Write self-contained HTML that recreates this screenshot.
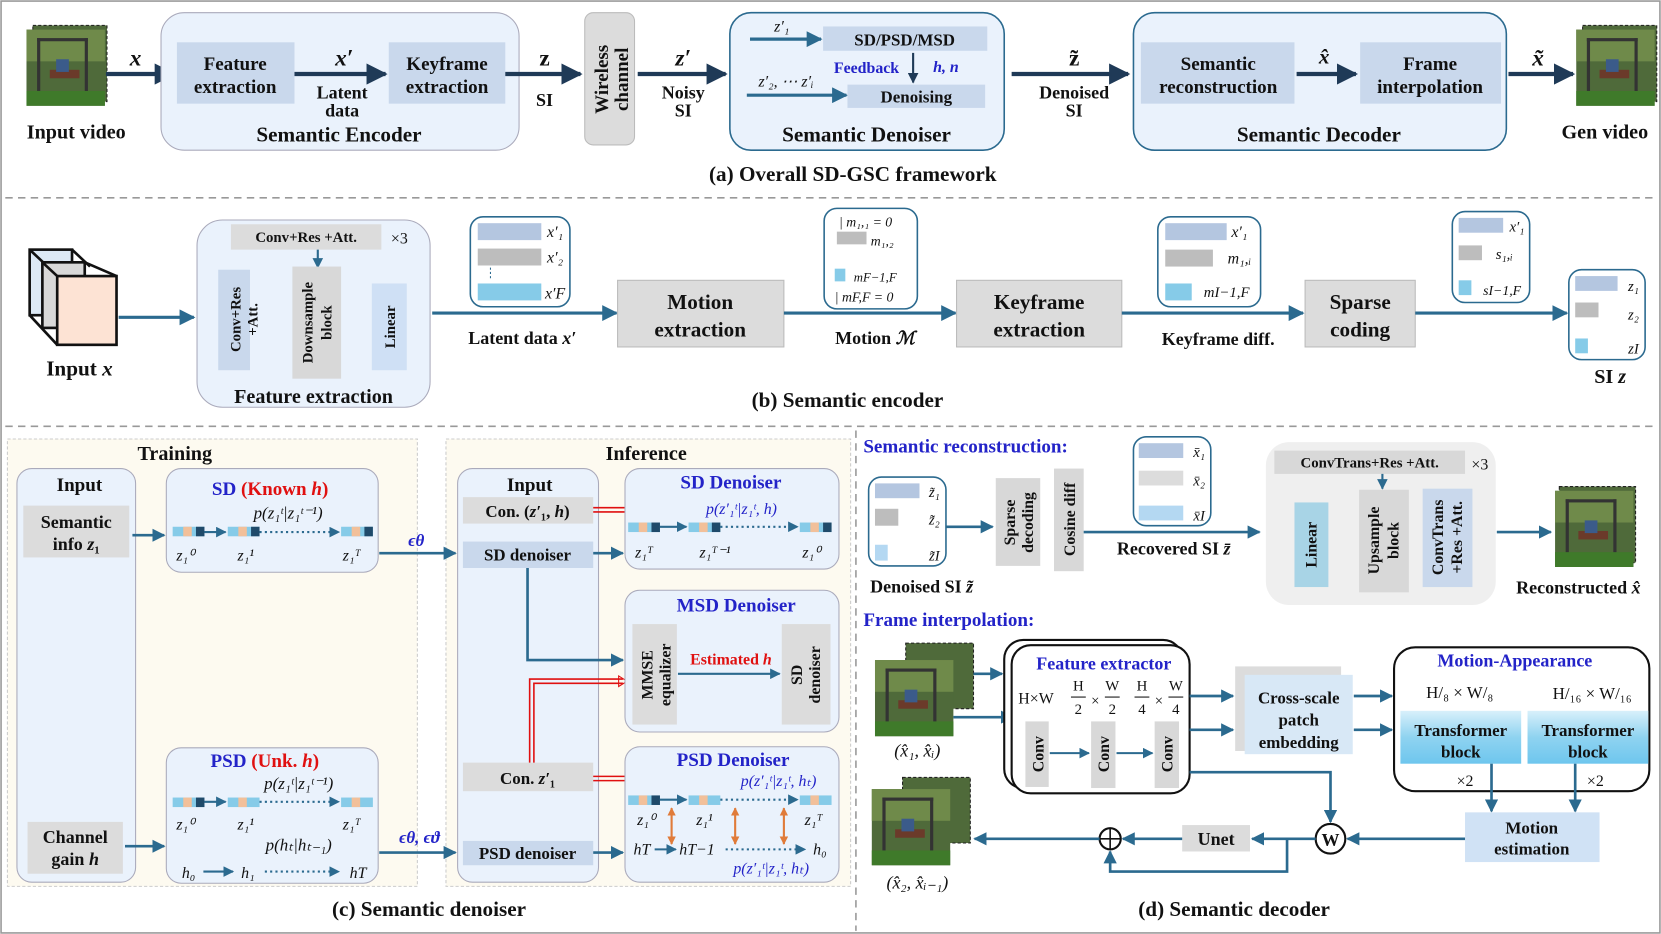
<!DOCTYPE html>
<html><head><meta charset="utf-8"><style>
html,body{margin:0;padding:0;background:#fff;}
svg{display:block;}
text{font-family:"Liberation Serif",serif;font-weight:bold;fill:#111;}
.it{font-style:italic;}
.bl{fill:#2323c8;}
.rd{fill:#e01010;}
.n{font-weight:normal;}
</style></head><body>
<svg width="1661" height="934" viewBox="0 0 1568 883" preserveAspectRatio="none" xmlns="http://www.w3.org/2000/svg">
<defs>
<marker id="a1" viewBox="0 0 10 10" refX="9" refY="5" markerWidth="5" markerHeight="5" orient="auto"><path d="M0,0L10,5L0,10z" fill="#1f3a57"/></marker>
<marker id="a2" viewBox="0 0 10 10" refX="9" refY="5" markerWidth="5" markerHeight="5" orient="auto"><path d="M0,0L10,5L0,10z" fill="#2b6a8f"/></marker>
<marker id="a3" viewBox="0 0 10 10" refX="9" refY="5" markerWidth="4" markerHeight="4" orient="auto-start-reverse"><path d="M0,0L10,5L0,10z" fill="#e07b39"/></marker>
<linearGradient id="tg" x1="0" y1="0" x2="0" y2="1"><stop offset="0" stop-color="#d8f0fb"/><stop offset="0.5" stop-color="#8fd3f0"/><stop offset="1" stop-color="#6ec6ee"/></linearGradient>
<g id="img"><rect width="74" height="72" fill="#4f6a3a"/><rect y="0" width="74" height="30" fill="#6f8a4a"/><rect x="10" y="8" width="3" height="55" fill="#333"/><rect x="55" y="8" width="3" height="55" fill="#333"/><rect x="10" y="8" width="48" height="3" fill="#333"/><rect x="22" y="38" width="28" height="8" fill="#6b3a2a"/><rect x="28" y="28" width="12" height="12" fill="#3b5b8a"/><rect y="58" width="74" height="14" fill="#3f7a2a"/></g>
</defs>
<rect x="1" y="1" width="1566" height="881" fill="none" stroke="#999" stroke-width="1.5"/>

<!-- (a) -->
<rect x="31" y="24" width="70" height="72" fill="#4f6a3a" stroke="#222" stroke-dasharray="3,2"/>
<use href="#img" x="25" y="28"/>
<text x="72" y="131" text-anchor="middle" font-size="19">Input video</text>
<line x1="100" y1="70" x2="164" y2="70" stroke="#1f3a57" stroke-width="4" marker-end="url(#a1)"/>
<text x="128" y="62" text-anchor="middle" font-size="22" class="it">x</text>
<rect x="152" y="12" width="338" height="130" rx="22" fill="#eaf2fc" stroke="#aab" />
<rect x="167" y="40" width="111" height="58" fill="#c9d8ec"/>
<text x="222" y="66" text-anchor="middle" font-size="18">Feature</text><text x="222" y="88" text-anchor="middle" font-size="18">extraction</text>
<line x1="278" y1="70" x2="364" y2="70" stroke="#1f3a57" stroke-width="4" marker-end="url(#a1)"/>
<text x="325" y="62" text-anchor="middle" font-size="22" class="it">x′</text>
<text x="323" y="93" text-anchor="middle" font-size="17">Latent</text><text x="323" y="110" text-anchor="middle" font-size="17">data</text>
<rect x="367" y="40" width="110" height="58" fill="#c9d8ec"/>
<text x="422" y="66" text-anchor="middle" font-size="18">Keyframe</text><text x="422" y="88" text-anchor="middle" font-size="18">extraction</text>
<text x="320" y="134" text-anchor="middle" font-size="20">Semantic Encoder</text>
<line x1="477" y1="70" x2="548" y2="70" stroke="#1f3a57" stroke-width="4" marker-end="url(#a1)"/>
<text x="514" y="62" text-anchor="middle" font-size="22">z</text><text x="514" y="100" text-anchor="middle" font-size="17">SI</text>
<rect x="552" y="12" width="47" height="125" rx="8" fill="#dcdcdc" stroke="#bbb"/>
<text transform="translate(574,75) rotate(-90)" text-anchor="middle" font-size="18">Wireless</text>
<text transform="translate(593,75) rotate(-90)" text-anchor="middle" font-size="18">channel</text>
<line x1="602" y1="70" x2="685" y2="70" stroke="#1f3a57" stroke-width="4" marker-end="url(#a1)"/>
<text x="645" y="62" text-anchor="middle" font-size="22" class="it">z′</text>
<text x="645" y="93" text-anchor="middle" font-size="17">Noisy</text><text x="645" y="110" text-anchor="middle" font-size="17">SI</text>
<rect x="689" y="12" width="259" height="130" rx="20" fill="#eaf2fc" stroke="#2b6a8f" stroke-width="1.5"/>
<rect x="777" y="25" width="155" height="23" fill="#c9d8ec"/>
<text x="854" y="43" text-anchor="middle" font-size="16">SD/PSD/MSD</text>
<text x="738" y="30" text-anchor="middle" font-size="15" class="it n">z′₁</text>
<line x1="708" y1="37" x2="775" y2="37" stroke="#2b6a8f" stroke-width="3" marker-end="url(#a2)"/>
<text x="818" y="69" text-anchor="middle" font-size="15" class="bl">Feedback</text>
<text x="893" y="68" text-anchor="middle" font-size="15" class="bl it">h, n</text>
<line x1="862" y1="50" x2="862" y2="78" stroke="#1f3a57" stroke-width="2" marker-end="url(#a1)"/>
<text x="742" y="82" text-anchor="middle" font-size="15" class="it n">z′₂, ⋯ z′ᵢ</text>
<line x1="705" y1="90" x2="799" y2="90" stroke="#2b6a8f" stroke-width="3" marker-end="url(#a2)"/>
<rect x="800" y="80" width="130" height="22" fill="#c9d8ec"/>
<text x="865" y="97" text-anchor="middle" font-size="16">Denoising</text>
<text x="818" y="134" text-anchor="middle" font-size="20">Semantic Denoiser</text>
<line x1="955" y1="70" x2="1065" y2="70" stroke="#1f3a57" stroke-width="4" marker-end="url(#a1)"/>
<text x="1014" y="62" text-anchor="middle" font-size="22">z̃</text>
<text x="1014" y="93" text-anchor="middle" font-size="17">Denoised</text><text x="1014" y="110" text-anchor="middle" font-size="17">SI</text>
<rect x="1070" y="12" width="352" height="130" rx="20" fill="#eaf2fc" stroke="#2b6a8f" stroke-width="1.5"/>
<rect x="1077" y="40" width="145" height="58" fill="#c9d8ec"/>
<text x="1150" y="66" text-anchor="middle" font-size="18">Semantic</text><text x="1150" y="88" text-anchor="middle" font-size="18">reconstruction</text>
<line x1="1224" y1="70" x2="1280" y2="70" stroke="#1f3a57" stroke-width="4" marker-end="url(#a1)"/>
<text x="1250" y="60" text-anchor="middle" font-size="20" class="it">x̂</text>
<rect x="1284" y="40" width="133" height="58" fill="#c9d8ec"/>
<text x="1350" y="66" text-anchor="middle" font-size="18">Frame</text><text x="1350" y="88" text-anchor="middle" font-size="18">interpolation</text>
<text x="1245" y="134" text-anchor="middle" font-size="20">Semantic Decoder</text>
<line x1="1424" y1="70" x2="1485" y2="70" stroke="#1f3a57" stroke-width="4" marker-end="url(#a1)"/>
<text x="1452" y="62" text-anchor="middle" font-size="22" class="it">x̃</text>
<rect x="1494" y="24" width="70" height="72" fill="#4f6a3a" stroke="#222" stroke-dasharray="3,2"/>
<use href="#img" x="1488" y="28"/>
<text x="1515" y="131" text-anchor="middle" font-size="19">Gen video</text>
<text x="805" y="171" text-anchor="middle" font-size="20">(a) Overall SD-GSC framework</text>
<line x1="5" y1="187" x2="1563" y2="187" stroke="#999" stroke-width="1.5" stroke-dasharray="7,5"/>

<!-- (b) -->
<g stroke="#111" stroke-width="2.5">
<rect x="28" y="236" width="40" height="62" fill="#dde9f5"/>
<path d="M28,236 L45,252 M68,236 L85,252" fill="none"/>
<rect x="40" y="248" width="40" height="62" fill="#d8d8d8"/>
<rect x="54" y="261" width="56" height="65" fill="#fde3d4"/>
<path d="M40,248 L54,261 M80,248 L110,261 M28,298 L54,326" fill="none"/>
</g>
<text x="75" y="355" text-anchor="middle" font-size="20">Input <tspan class="it">x</tspan></text>
<line x1="112" y1="300" x2="183" y2="300" stroke="#2b6a8f" stroke-width="3" marker-end="url(#a2)"/>
<rect x="186" y="208" width="220" height="177" rx="24" fill="#eaf2fc" stroke="#aab"/>
<rect x="218" y="212" width="142" height="24" fill="#dcdcdc"/>
<text x="289" y="229" text-anchor="middle" font-size="14">Conv+Res +Att.</text>
<text x="377" y="230" text-anchor="middle" font-size="15" class="n">×3</text>
<line x1="300" y1="236" x2="300" y2="253" stroke="#2b6a8f" stroke-width="2" marker-end="url(#a2)"/>
<rect x="206" y="255" width="30" height="95" fill="#c9d8ec"/>
<text transform="translate(227,302) rotate(-90)" text-anchor="middle" font-size="14">Conv+Res</text>
<text transform="translate(243,302) rotate(-90)" text-anchor="middle" font-size="14">+Att.</text>
<rect x="276" y="252" width="46" height="106" fill="#d8d8d8"/>
<text transform="translate(295,305) rotate(-90)" text-anchor="middle" font-size="14">Downsample</text>
<text transform="translate(313,305) rotate(-90)" text-anchor="middle" font-size="14">block</text>
<rect x="351" y="268" width="33" height="82" fill="#cfe0f5"/>
<text transform="translate(373,309) rotate(-90)" text-anchor="middle" font-size="14">Linear</text>
<text x="296" y="381" text-anchor="middle" font-size="19">Feature extraction</text>
<line x1="408" y1="296" x2="582" y2="296" stroke="#2b6a8f" stroke-width="3" marker-end="url(#a2)"/>
<text x="493" y="325" text-anchor="middle" font-size="17">Latent data <tspan class="it">x′</tspan></text>
<rect x="444" y="205" width="94" height="85" rx="12" fill="#fff" stroke="#2b6a8f" stroke-width="1.5"/>
<rect x="451" y="211" width="60" height="16" fill="#b4c6e0"/><text x="524" y="224" text-anchor="middle" font-size="15" class="it n">x′₁</text>
<rect x="451" y="235" width="60" height="16" fill="#bdbdbd"/><text x="524" y="248" text-anchor="middle" font-size="15" class="it n">x′₂</text>
<line x1="463" y1="253" x2="463" y2="265" stroke="#2b6a8f" stroke-dasharray="2,2"/>
<rect x="451" y="268" width="60" height="16" fill="#86cbe8"/><text x="524" y="282" text-anchor="middle" font-size="15" class="it n">x′F</text>
<rect x="583" y="265" width="157" height="63" fill="#dcdcdc" stroke="#bbb"/>
<text x="661" y="292" text-anchor="middle" font-size="20">Motion</text><text x="661" y="318" text-anchor="middle" font-size="20">extraction</text>
<line x1="740" y1="296" x2="902" y2="296" stroke="#2b6a8f" stroke-width="3" marker-end="url(#a2)"/>
<text x="826" y="325" text-anchor="middle" font-size="17">Motion <tspan class="it">ℳ</tspan></text>
<rect x="778" y="197" width="88" height="95" rx="12" fill="#fff" stroke="#2b6a8f" stroke-width="1.5"/>
<text x="792" y="214" font-size="13" class="it n">| m₁,₁ = 0</text>
<rect x="790" y="219" width="28" height="12" fill="#bdbdbd"/><text x="822" y="232" font-size="13" class="it n">m₁,₂</text>
<rect x="788" y="254" width="10" height="12" fill="#86cbe8"/><text x="806" y="266" font-size="12" class="it n">mF−1,F</text>
<text x="788" y="285" font-size="13" class="it n">| mF,F = 0</text>
<rect x="903" y="265" width="156" height="63" fill="#dcdcdc" stroke="#bbb"/>
<text x="981" y="292" text-anchor="middle" font-size="20">Keyframe</text><text x="981" y="318" text-anchor="middle" font-size="20">extraction</text>
<line x1="1059" y1="296" x2="1230" y2="296" stroke="#2b6a8f" stroke-width="3" marker-end="url(#a2)"/>
<text x="1150" y="326" text-anchor="middle" font-size="17">Keyframe diff.</text>
<rect x="1093" y="205" width="97" height="85" rx="12" fill="#fff" stroke="#2b6a8f" stroke-width="1.5"/>
<rect x="1100" y="211" width="58" height="16" fill="#b4c6e0"/><text x="1170" y="224" text-anchor="middle" font-size="15" class="it n">x′₁</text>
<rect x="1100" y="236" width="45" height="16" fill="#bdbdbd"/><text x="1170" y="249" text-anchor="middle" font-size="15" class="it n">m₁,ᵢ</text>
<rect x="1100" y="268" width="25" height="16" fill="#86cbe8"/><text x="1158" y="281" text-anchor="middle" font-size="14" class="it n">mI−1,F</text>
<rect x="1232" y="265" width="104" height="63" fill="#dcdcdc" stroke="#bbb"/>
<text x="1284" y="292" text-anchor="middle" font-size="20">Sparse</text><text x="1284" y="318" text-anchor="middle" font-size="20">coding</text>
<line x1="1336" y1="296" x2="1479" y2="296" stroke="#2b6a8f" stroke-width="3" marker-end="url(#a2)"/>
<rect x="1371" y="200" width="73" height="86" rx="12" fill="#fff" stroke="#2b6a8f" stroke-width="1.5"/>
<rect x="1377" y="206" width="42" height="14" fill="#b4c6e0"/><text x="1432" y="219" text-anchor="middle" font-size="14" class="it n">x′₁</text>
<rect x="1377" y="232" width="22" height="14" fill="#bdbdbd"/><text x="1420" y="245" text-anchor="middle" font-size="14" class="it n">s₁,ᵢ</text>
<rect x="1377" y="265" width="12" height="14" fill="#86cbe8"/><text x="1418" y="279" text-anchor="middle" font-size="13" class="it n">sI−1,F</text>
<rect x="1481" y="255" width="72" height="85" rx="12" fill="#fff" stroke="#2b6a8f" stroke-width="1.5"/>
<rect x="1487" y="261" width="40" height="14" fill="#b4c6e0"/><text x="1542" y="275" text-anchor="middle" font-size="14" class="it n">z₁</text>
<rect x="1487" y="286" width="22" height="14" fill="#bdbdbd"/><text x="1542" y="302" text-anchor="middle" font-size="14" class="it n">z₂</text>
<rect x="1487" y="320" width="12" height="14" fill="#86cbe8"/><text x="1542" y="334" text-anchor="middle" font-size="14" class="it n">zI</text>
<text x="1520" y="362" text-anchor="middle" font-size="19">SI <tspan class="it">z</tspan></text>
<text x="800" y="385" text-anchor="middle" font-size="20">(b) Semantic encoder</text>
<line x1="5" y1="403" x2="1563" y2="403" stroke="#999" stroke-width="1.5" stroke-dasharray="7,5"/>

<!-- (c) -->
<rect x="7" y="415" width="387" height="423" fill="#fdfaf0" stroke="#ccc" stroke-dasharray="3,2"/>
<rect x="421" y="415" width="382" height="423" fill="#fdfaf0" stroke="#ccc" stroke-dasharray="3,2"/>
<text x="165" y="435" text-anchor="middle" font-size="19">Training</text>
<text x="610" y="435" text-anchor="middle" font-size="19">Inference</text>
<rect x="16" y="443" width="112" height="391" rx="14" fill="#eaf2fc" stroke="#aab"/>
<text x="75" y="464" text-anchor="middle" font-size="18">Input</text>
<rect x="22" y="478" width="100" height="49" fill="#dcdcdc"/>
<text x="72" y="499" text-anchor="middle" font-size="17">Semantic</text><text x="72" y="520" text-anchor="middle" font-size="17">info <tspan class="it">z</tspan>₁</text>
<rect x="26" y="777" width="90" height="49" fill="#dcdcdc"/>
<text x="71" y="797" text-anchor="middle" font-size="17">Channel</text><text x="71" y="818" text-anchor="middle" font-size="17">gain <tspan class="it">h</tspan></text>
<line x1="125" y1="506" x2="155" y2="506" stroke="#2b6a8f" stroke-width="2.5" marker-end="url(#a2)"/>
<line x1="118" y1="800" x2="155" y2="800" stroke="#2b6a8f" stroke-width="2.5" marker-end="url(#a2)"/>
<rect x="157" y="443" width="200" height="98" rx="14" fill="#eaf2fc" stroke="#aab"/>
<text x="255" y="468" text-anchor="middle" font-size="18"><tspan class="bl">SD </tspan><tspan class="rd">(Known <tspan class="it">h</tspan>)</tspan></text>
<text x="272" y="490" text-anchor="middle" font-size="16" class="it n">p(z₁ᵗ|z₁ᵗ⁻¹)</text>
<g>
<rect x="163" y="498" width="30" height="9" fill="#86cbe8"/><rect x="173" y="498" width="8" height="9" fill="#f2c09a"/><rect x="185" y="498" width="8" height="9" fill="#1f4a6a"/>
<rect x="215" y="498" width="30" height="9" fill="#86cbe8"/><rect x="225" y="498" width="8" height="9" fill="#f2c09a"/><rect x="237" y="498" width="8" height="9" fill="#1f4a6a"/>
<rect x="322" y="498" width="30" height="9" fill="#86cbe8"/><rect x="332" y="498" width="8" height="9" fill="#f2c09a"/><rect x="344" y="498" width="8" height="9" fill="#1f4a6a"/>
<line x1="193" y1="503" x2="213" y2="503" stroke="#2b6a8f" stroke-width="2" marker-end="url(#a2)"/>
<line x1="245" y1="503" x2="320" y2="503" stroke="#2b6a8f" stroke-width="2" stroke-dasharray="2,3" marker-end="url(#a2)"/>
</g>
<text x="175" y="530" text-anchor="middle" font-size="15" class="it n">z₁⁰</text><text x="232" y="530" text-anchor="middle" font-size="15" class="it n">z₁¹</text><text x="332" y="530" text-anchor="middle" font-size="15" class="it n">z₁ᵀ</text>
<text x="393" y="516" text-anchor="middle" font-size="16" class="bl it">ϵθ</text>
<line x1="358" y1="523" x2="430" y2="523" stroke="#2b6a8f" stroke-width="2.5" marker-end="url(#a2)"/>
<rect x="157" y="707" width="200" height="128" rx="14" fill="#eaf2fc" stroke="#aab"/>
<text x="250" y="725" text-anchor="middle" font-size="18"><tspan class="bl">PSD </tspan><tspan class="rd">(Unk. <tspan class="it">h</tspan>)</tspan></text>
<text x="282" y="746" text-anchor="middle" font-size="16" class="it n">p(z₁ᵗ|z₁ᵗ⁻¹)</text>
<rect x="163" y="754" width="30" height="9" fill="#86cbe8"/><rect x="173" y="754" width="8" height="9" fill="#f2c09a"/><rect x="185" y="754" width="8" height="9" fill="#1f4a6a"/>
<rect x="215" y="754" width="30" height="9" fill="#86cbe8"/><rect x="225" y="754" width="8" height="9" fill="#f2c09a"/>
<rect x="322" y="754" width="30" height="9" fill="#86cbe8"/><rect x="332" y="754" width="8" height="9" fill="#f2c09a"/>
<line x1="193" y1="758" x2="213" y2="758" stroke="#2b6a8f" stroke-width="2" marker-end="url(#a2)"/>
<line x1="245" y1="758" x2="320" y2="758" stroke="#2b6a8f" stroke-width="2" stroke-dasharray="2,3" marker-end="url(#a2)"/>
<text x="175" y="784" text-anchor="middle" font-size="15" class="it n">z₁⁰</text><text x="232" y="784" text-anchor="middle" font-size="15" class="it n">z₁¹</text><text x="332" y="784" text-anchor="middle" font-size="15" class="it n">z₁ᵀ</text>
<text x="282" y="804" text-anchor="middle" font-size="16" class="it n">p(hₜ|hₜ₋₁)</text>
<text x="178" y="830" text-anchor="middle" font-size="15" class="it n">h₀</text><text x="234" y="830" text-anchor="middle" font-size="15" class="it n">h₁</text><text x="338" y="830" text-anchor="middle" font-size="15" class="it n">hT</text>
<line x1="192" y1="824" x2="220" y2="824" stroke="#2b6a8f" stroke-width="2" marker-end="url(#a2)"/>
<line x1="250" y1="824" x2="320" y2="824" stroke="#2b6a8f" stroke-width="2" stroke-dasharray="2,3" marker-end="url(#a2)"/>
<text x="396" y="797" text-anchor="middle" font-size="16" class="bl it">ϵθ, ϵϑ</text>
<line x1="358" y1="806" x2="430" y2="806" stroke="#2b6a8f" stroke-width="2.5" marker-end="url(#a2)"/>

<rect x="432" y="443" width="133" height="391" rx="14" fill="#eaf2fc" stroke="#aab"/>
<text x="500" y="464" text-anchor="middle" font-size="18">Input</text>
<rect x="437" y="470" width="123" height="25" fill="#dcdcdc"/>
<text x="498" y="489" text-anchor="middle" font-size="16">Con. (<tspan class="it">z′</tspan>₁, <tspan class="it">h</tspan>)</text>
<rect x="437" y="512" width="123" height="25" fill="#c9d8ec"/>
<text x="498" y="530" text-anchor="middle" font-size="16">SD denoiser</text>
<rect x="437" y="721" width="123" height="27" fill="#dcdcdc"/>
<text x="498" y="741" text-anchor="middle" font-size="16">Con. <tspan class="it">z′</tspan>₁</text>
<rect x="437" y="795" width="123" height="23" fill="#c9d8ec"/>
<text x="498" y="812" text-anchor="middle" font-size="16">PSD denoiser</text>
<line x1="560" y1="523" x2="588" y2="523" stroke="#2b6a8f" stroke-width="2.5" marker-end="url(#a2)"/>
<polyline points="498,537 498,624 588,624" fill="none" stroke="#2b6a8f" stroke-width="2.5" marker-end="url(#a2)"/>
<line x1="560" y1="806" x2="588" y2="806" stroke="#2b6a8f" stroke-width="2.5" marker-end="url(#a2)"/>
<path d="M560,480 L632,480 L632,494 M560,484 L628,484 L628,494" fill="none" stroke="#e01010" stroke-width="1.5"/>
<path d="M625,490 L630,498 L635,490z" fill="none" stroke="#e01010"/>
<path d="M500,721 L500,642 L588,642 M504,721 L504,646 L588,646" fill="none" stroke="#e01010" stroke-width="1.5"/>
<path d="M584,639 L592,644 L584,649z" fill="none" stroke="#e01010"/>
<path d="M560,734 L636,734 L636,748 M560,738 L632,738 L632,748" fill="none" stroke="#e01010" stroke-width="1.5"/>
<path d="M629,745 L634,753 L639,745z" fill="none" stroke="#e01010"/>

<rect x="590" y="443" width="202" height="95" rx="14" fill="#eaf2fc" stroke="#aab"/>
<text x="690" y="462" text-anchor="middle" font-size="18" class="bl">SD Denoiser</text>
<text x="700" y="486" text-anchor="middle" font-size="15" class="bl it n">p(z′₁ᵗ|z₁ᵗ, h)</text>
<rect x="593" y="494" width="30" height="9" fill="#86cbe8"/><rect x="603" y="494" width="8" height="9" fill="#f2c09a"/><rect x="615" y="494" width="8" height="9" fill="#1f4a6a"/>
<rect x="650" y="494" width="30" height="9" fill="#86cbe8"/><rect x="660" y="494" width="8" height="9" fill="#f2c09a"/><rect x="672" y="494" width="8" height="9" fill="#1f4a6a"/>
<rect x="755" y="494" width="30" height="9" fill="#86cbe8"/><rect x="765" y="494" width="8" height="9" fill="#f2c09a"/><rect x="777" y="494" width="8" height="9" fill="#1f4a6a"/>
<line x1="623" y1="498" x2="648" y2="498" stroke="#2b6a8f" stroke-width="2" marker-end="url(#a2)"/>
<line x1="680" y1="498" x2="753" y2="498" stroke="#2b6a8f" stroke-width="2" stroke-dasharray="2,3" marker-end="url(#a2)"/>
<text x="608" y="527" text-anchor="middle" font-size="15" class="it n">z₁ᵀ</text><text x="675" y="527" text-anchor="middle" font-size="15" class="it n">z₁ᵀ⁻¹</text><text x="766" y="527" text-anchor="middle" font-size="15" class="it n">z₁⁰</text>
<rect x="590" y="558" width="202" height="134" rx="14" fill="#eaf2fc" stroke="#aab"/>
<text x="695" y="578" text-anchor="middle" font-size="18" class="bl">MSD Denoiser</text>
<rect x="597" y="590" width="42" height="95" fill="#dcdcdc"/>
<text transform="translate(616,638) rotate(-90)" text-anchor="middle" font-size="15">MMSE</text>
<text transform="translate(633,638) rotate(-90)" text-anchor="middle" font-size="15">equalizer</text>
<rect x="738" y="590" width="46" height="95" fill="#dcdcdc"/>
<text transform="translate(757,638) rotate(-90)" text-anchor="middle" font-size="15">SD</text>
<text transform="translate(774,638) rotate(-90)" text-anchor="middle" font-size="15">denoiser</text>
<text x="690" y="628" text-anchor="middle" font-size="15" class="rd">Estimated <tspan class="it">h</tspan></text>
<line x1="640" y1="637" x2="736" y2="637" stroke="#2b6a8f" stroke-width="2" marker-end="url(#a2)"/>
<rect x="590" y="706" width="202" height="128" rx="14" fill="#eaf2fc" stroke="#aab"/>
<text x="692" y="724" text-anchor="middle" font-size="18" class="bl">PSD Denoiser</text>
<text x="735" y="743" text-anchor="middle" font-size="15" class="bl it n">p(z′₁ᵗ|z₁ᵗ, hₜ)</text>
<rect x="593" y="752" width="30" height="9" fill="#86cbe8"/><rect x="603" y="752" width="8" height="9" fill="#f2c09a"/><rect x="615" y="752" width="8" height="9" fill="#1f4a6a"/>
<rect x="650" y="752" width="30" height="9" fill="#86cbe8"/><rect x="660" y="752" width="8" height="9" fill="#f2c09a"/>
<rect x="755" y="752" width="30" height="9" fill="#86cbe8"/><rect x="765" y="752" width="8" height="9" fill="#f2c09a"/>
<line x1="623" y1="756" x2="648" y2="756" stroke="#2b6a8f" stroke-width="2" marker-end="url(#a2)"/>
<line x1="680" y1="756" x2="753" y2="756" stroke="#2b6a8f" stroke-width="2" stroke-dasharray="2,3" marker-end="url(#a2)"/>
<text x="610" y="780" text-anchor="middle" font-size="15" class="it n">z₁⁰</text><text x="665" y="780" text-anchor="middle" font-size="15" class="it n">z₁¹</text><text x="768" y="780" text-anchor="middle" font-size="15" class="it n">z₁ᵀ</text>
<line x1="634" y1="764" x2="634" y2="798" stroke="#e07b39" stroke-width="2" marker-start="url(#a3)" marker-end="url(#a3)"/>
<line x1="694" y1="764" x2="694" y2="798" stroke="#e07b39" stroke-width="2" marker-start="url(#a3)" marker-end="url(#a3)"/>
<line x1="740" y1="764" x2="740" y2="798" stroke="#e07b39" stroke-width="2" marker-start="url(#a3)" marker-end="url(#a3)"/>
<text x="606" y="808" text-anchor="middle" font-size="15" class="it n">hT</text><text x="658" y="808" text-anchor="middle" font-size="15" class="it n">hT−1</text><text x="774" y="808" text-anchor="middle" font-size="15" class="it n">h₀</text>
<line x1="618" y1="803" x2="638" y2="803" stroke="#2b6a8f" stroke-width="2" marker-end="url(#a2)"/>
<line x1="685" y1="803" x2="760" y2="803" stroke="#2b6a8f" stroke-width="2" stroke-dasharray="2,3" marker-end="url(#a2)"/>
<text x="728" y="826" text-anchor="middle" font-size="15" class="bl it n">p(z′₁ᵗ|z₁ᵗ, hₜ)</text>
<text x="405" y="866" text-anchor="middle" font-size="20">(c) Semantic denoiser</text>

<!-- (d) -->
<line x1="808" y1="407" x2="808" y2="880" stroke="#999" stroke-width="1.5" stroke-dasharray="7,5"/>
<text x="815" y="428" font-size="18" class="bl">Semantic reconstruction:</text>
<rect x="820" y="451" width="73" height="84" rx="12" fill="#fff" stroke="#2b6a8f" stroke-width="1.5"/>
<rect x="826" y="457" width="42" height="14" fill="#b4c6e0"/><text x="882" y="470" text-anchor="middle" font-size="14" class="it n">z̃₁</text>
<rect x="826" y="481" width="22" height="16" fill="#bdbdbd"/><text x="882" y="496" text-anchor="middle" font-size="14" class="it n">z̃₂</text>
<rect x="826" y="515" width="12" height="15" fill="#b4d8f2"/><text x="882" y="530" text-anchor="middle" font-size="14" class="it n">z̃I</text>
<text x="870" y="560" text-anchor="middle" font-size="17">Denoised SI <tspan class="it">z̃</tspan></text>
<line x1="893" y1="498" x2="937" y2="498" stroke="#2b6a8f" stroke-width="2.5" marker-end="url(#a2)"/>
<rect x="940" y="452" width="42" height="83" fill="#d8d8d8"/>
<text transform="translate(958,494) rotate(-90)" text-anchor="middle" font-size="15">Sparse</text>
<text transform="translate(975,494) rotate(-90)" text-anchor="middle" font-size="15">decoding</text>
<rect x="995" y="443" width="28" height="97" fill="#d8d8d8"/>
<text transform="translate(1015,491) rotate(-90)" text-anchor="middle" font-size="15">Cosine diff</text>
<line x1="1023" y1="503" x2="1189" y2="503" stroke="#2b6a8f" stroke-width="2.5" marker-end="url(#a2)"/>
<text x="1108" y="524" text-anchor="middle" font-size="17">Recovered SI <tspan class="it">z̄</tspan></text>
<rect x="1070" y="413" width="73" height="84" rx="12" fill="#fff" stroke="#2b6a8f" stroke-width="1.5"/>
<rect x="1075" y="419" width="42" height="14" fill="#b4c6e0"/><text x="1132" y="432" text-anchor="middle" font-size="14" class="it n">x̄₁</text>
<rect x="1075" y="445" width="42" height="14" fill="#dcdcdc"/><text x="1132" y="459" text-anchor="middle" font-size="14" class="it n">x̄₂</text>
<rect x="1075" y="478" width="42" height="14" fill="#b4d8f2"/><text x="1132" y="492" text-anchor="middle" font-size="14" class="it n">x̄I</text>
<rect x="1195" y="418" width="217" height="154" rx="22" fill="#efefef"/>
<rect x="1203" y="426" width="180" height="22" fill="#d8d8d8"/>
<text x="1293" y="442" text-anchor="middle" font-size="14">ConvTrans+Res +Att.</text>
<text x="1397" y="444" text-anchor="middle" font-size="15" class="n">×3</text>
<line x1="1305" y1="448" x2="1305" y2="462" stroke="#2b6a8f" stroke-width="2" marker-end="url(#a2)"/>
<rect x="1222" y="475" width="32" height="80" fill="#a8d4e6"/>
<text transform="translate(1243,515) rotate(-90)" text-anchor="middle" font-size="15">Linear</text>
<rect x="1283" y="463" width="47" height="97" fill="#d8d8d8"/>
<text transform="translate(1302,511) rotate(-90)" text-anchor="middle" font-size="15">Upsample</text>
<text transform="translate(1320,511) rotate(-90)" text-anchor="middle" font-size="15">block</text>
<rect x="1343" y="462" width="47" height="93" fill="#c9d8ec"/>
<text transform="translate(1362,508) rotate(-90)" text-anchor="middle" font-size="15">ConvTrans</text>
<text transform="translate(1380,508) rotate(-90)" text-anchor="middle" font-size="15">+Res +Att.</text>
<line x1="1413" y1="503" x2="1464" y2="503" stroke="#2b6a8f" stroke-width="2.5" marker-end="url(#a2)"/>
<rect x="1472" y="460" width="72" height="72" fill="#4f6a3a" stroke="#222" stroke-dasharray="3,2"/>
<use href="#img" x="1468" y="464"/>
<text x="1490" y="561" text-anchor="middle" font-size="17">Reconstructed <tspan class="it">x̂</tspan></text>

<text x="815" y="592" font-size="18" class="bl">Frame interpolation:</text>
<rect x="855" y="608" width="64" height="62" fill="#4f6a3a" stroke="#222" stroke-dasharray="3,2"/>
<use href="#img" x="826" y="624" transform="scale(1)"/>
<text x="866" y="715" text-anchor="middle" font-size="17" class="it n">(x̂₁, x̂ᵢ)</text>
<rect x="852" y="735" width="64" height="62" fill="#4f6a3a" stroke="#222" stroke-dasharray="3,2"/>
<use href="#img" x="823" y="746"/>
<text x="866" y="840" text-anchor="middle" font-size="17" class="it n">(x̂₂, x̂ᵢ₋₁)</text>
<line x1="919" y1="637" x2="946" y2="637" stroke="#2b6a8f" stroke-width="2.5" marker-end="url(#a2)"/>
<line x1="900" y1="678" x2="956" y2="678" stroke="#2b6a8f" stroke-width="2.5" marker-end="url(#a2)"/>
<rect x="948" y="605" width="168" height="140" rx="18" fill="#fff" stroke="#111" stroke-width="2"/>
<rect x="955" y="610" width="168" height="140" rx="18" fill="#fff" stroke="#111" stroke-width="2"/>
<text x="1042" y="633" text-anchor="middle" font-size="17" class="bl">Feature extractor</text>
<text x="978" y="665" text-anchor="middle" font-size="15" class="n">H×W</text>
<text x="1018" y="653" text-anchor="middle" font-size="14" class="n">H</text><line x1="1011" y1="659" x2="1025" y2="659" stroke="#111"/><text x="1018" y="675" text-anchor="middle" font-size="14" class="n">2</text>
<text x="1034" y="667" text-anchor="middle" font-size="14" class="n">×</text>
<text x="1050" y="653" text-anchor="middle" font-size="14" class="n">W</text><line x1="1043" y1="659" x2="1057" y2="659" stroke="#111"/><text x="1050" y="675" text-anchor="middle" font-size="14" class="n">2</text>
<text x="1078" y="653" text-anchor="middle" font-size="14" class="n">H</text><line x1="1071" y1="659" x2="1085" y2="659" stroke="#111"/><text x="1078" y="675" text-anchor="middle" font-size="14" class="n">4</text>
<text x="1094" y="667" text-anchor="middle" font-size="14" class="n">×</text>
<text x="1110" y="653" text-anchor="middle" font-size="14" class="n">W</text><line x1="1103" y1="659" x2="1117" y2="659" stroke="#111"/><text x="1110" y="675" text-anchor="middle" font-size="14" class="n">4</text>
<rect x="968" y="682" width="22" height="62" fill="#d8d8d8"/><text transform="translate(985,713) rotate(-90)" text-anchor="middle" font-size="15">Conv</text>
<rect x="1030" y="682" width="23" height="63" fill="#d8d8d8"/><text transform="translate(1047,713) rotate(-90)" text-anchor="middle" font-size="15">Conv</text>
<rect x="1090" y="682" width="23" height="63" fill="#d8d8d8"/><text transform="translate(1107,713) rotate(-90)" text-anchor="middle" font-size="15">Conv</text>
<line x1="991" y1="712" x2="1028" y2="712" stroke="#2b6a8f" stroke-width="2" marker-end="url(#a2)"/>
<line x1="1054" y1="712" x2="1088" y2="712" stroke="#2b6a8f" stroke-width="2" marker-end="url(#a2)"/>
<line x1="1123" y1="658" x2="1164" y2="658" stroke="#2b6a8f" stroke-width="2.5" marker-end="url(#a2)"/>
<line x1="1123" y1="690" x2="1164" y2="690" stroke="#2b6a8f" stroke-width="2.5" marker-end="url(#a2)"/>
<polyline points="1123,730 1256,730 1256,777" fill="none" stroke="#2b6a8f" stroke-width="2.5" marker-end="url(#a2)"/>
<rect x="1166" y="630" width="100" height="80" fill="#dcdcdc"/>
<rect x="1175" y="638" width="102" height="75" fill="#d8e8f6"/>
<text x="1226" y="665" text-anchor="middle" font-size="16">Cross-scale</text><text x="1226" y="686" text-anchor="middle" font-size="16">patch</text><text x="1226" y="707" text-anchor="middle" font-size="16">embedding</text>
<line x1="1278" y1="658" x2="1314" y2="658" stroke="#2b6a8f" stroke-width="2.5" marker-end="url(#a2)"/>
<line x1="1278" y1="690" x2="1314" y2="690" stroke="#2b6a8f" stroke-width="2.5" marker-end="url(#a2)"/>
<rect x="1316" y="612" width="241" height="136" rx="20" fill="#fff" stroke="#111" stroke-width="2"/>
<text x="1430" y="630" text-anchor="middle" font-size="17" class="bl">Motion-Appearance</text>
<text x="1378" y="660" text-anchor="middle" font-size="16" class="n">H/₈ × W/₈</text>
<text x="1503" y="661" text-anchor="middle" font-size="16" class="n">H/₁₆ × W/₁₆</text>
<rect x="1322" y="672" width="114" height="50" fill="url(#tg)"/>
<text x="1379" y="696" text-anchor="middle" font-size="16">Transformer</text><text x="1379" y="716" text-anchor="middle" font-size="16">block</text>
<rect x="1442" y="672" width="114" height="50" fill="url(#tg)"/>
<text x="1499" y="696" text-anchor="middle" font-size="16">Transformer</text><text x="1499" y="716" text-anchor="middle" font-size="16">block</text>
<text x="1383" y="743" text-anchor="middle" font-size="15" class="n">×2</text>
<text x="1506" y="743" text-anchor="middle" font-size="15" class="n">×2</text>
<line x1="1408" y1="722" x2="1408" y2="767" stroke="#2b6a8f" stroke-width="2.5" marker-end="url(#a2)"/>
<line x1="1487" y1="722" x2="1487" y2="767" stroke="#2b6a8f" stroke-width="2.5" marker-end="url(#a2)"/>
<rect x="1383" y="768" width="127" height="47" fill="#d0e2f5"/>
<text x="1446" y="788" text-anchor="middle" font-size="16">Motion</text><text x="1446" y="808" text-anchor="middle" font-size="16">estimation</text>
<line x1="1383" y1="793" x2="1272" y2="793" stroke="#2b6a8f" stroke-width="2.5" marker-end="url(#a2)"/>
<circle cx="1256" cy="793" r="14" fill="#fff" stroke="#111" stroke-width="2"/>
<text x="1256" y="800" text-anchor="middle" font-size="17">W</text>
<line x1="1242" y1="793" x2="1182" y2="793" stroke="#2b6a8f" stroke-width="2.5" marker-end="url(#a2)"/>
<rect x="1116" y="780" width="64" height="25" fill="#dcdcdc"/>
<text x="1148" y="799" text-anchor="middle" font-size="17">Unet</text>
<line x1="1116" y1="793" x2="1060" y2="793" stroke="#2b6a8f" stroke-width="2.5" marker-end="url(#a2)"/>
<polyline points="1215,793 1215,824 1048,824 1048,805" fill="none" stroke="#2b6a8f" stroke-width="2.5" marker-end="url(#a2)"/>
<circle cx="1048" cy="793" r="10" fill="#fff" stroke="#111" stroke-width="2"/>
<path d="M1038,793 H1058 M1048,783 V803" stroke="#111" stroke-width="1.5"/>
<line x1="1038" y1="793" x2="920" y2="793" stroke="#2b6a8f" stroke-width="2.5" marker-end="url(#a2)"/>
<text x="1165" y="866" text-anchor="middle" font-size="20">(d) Semantic decoder</text>
</svg>
</body></html>
